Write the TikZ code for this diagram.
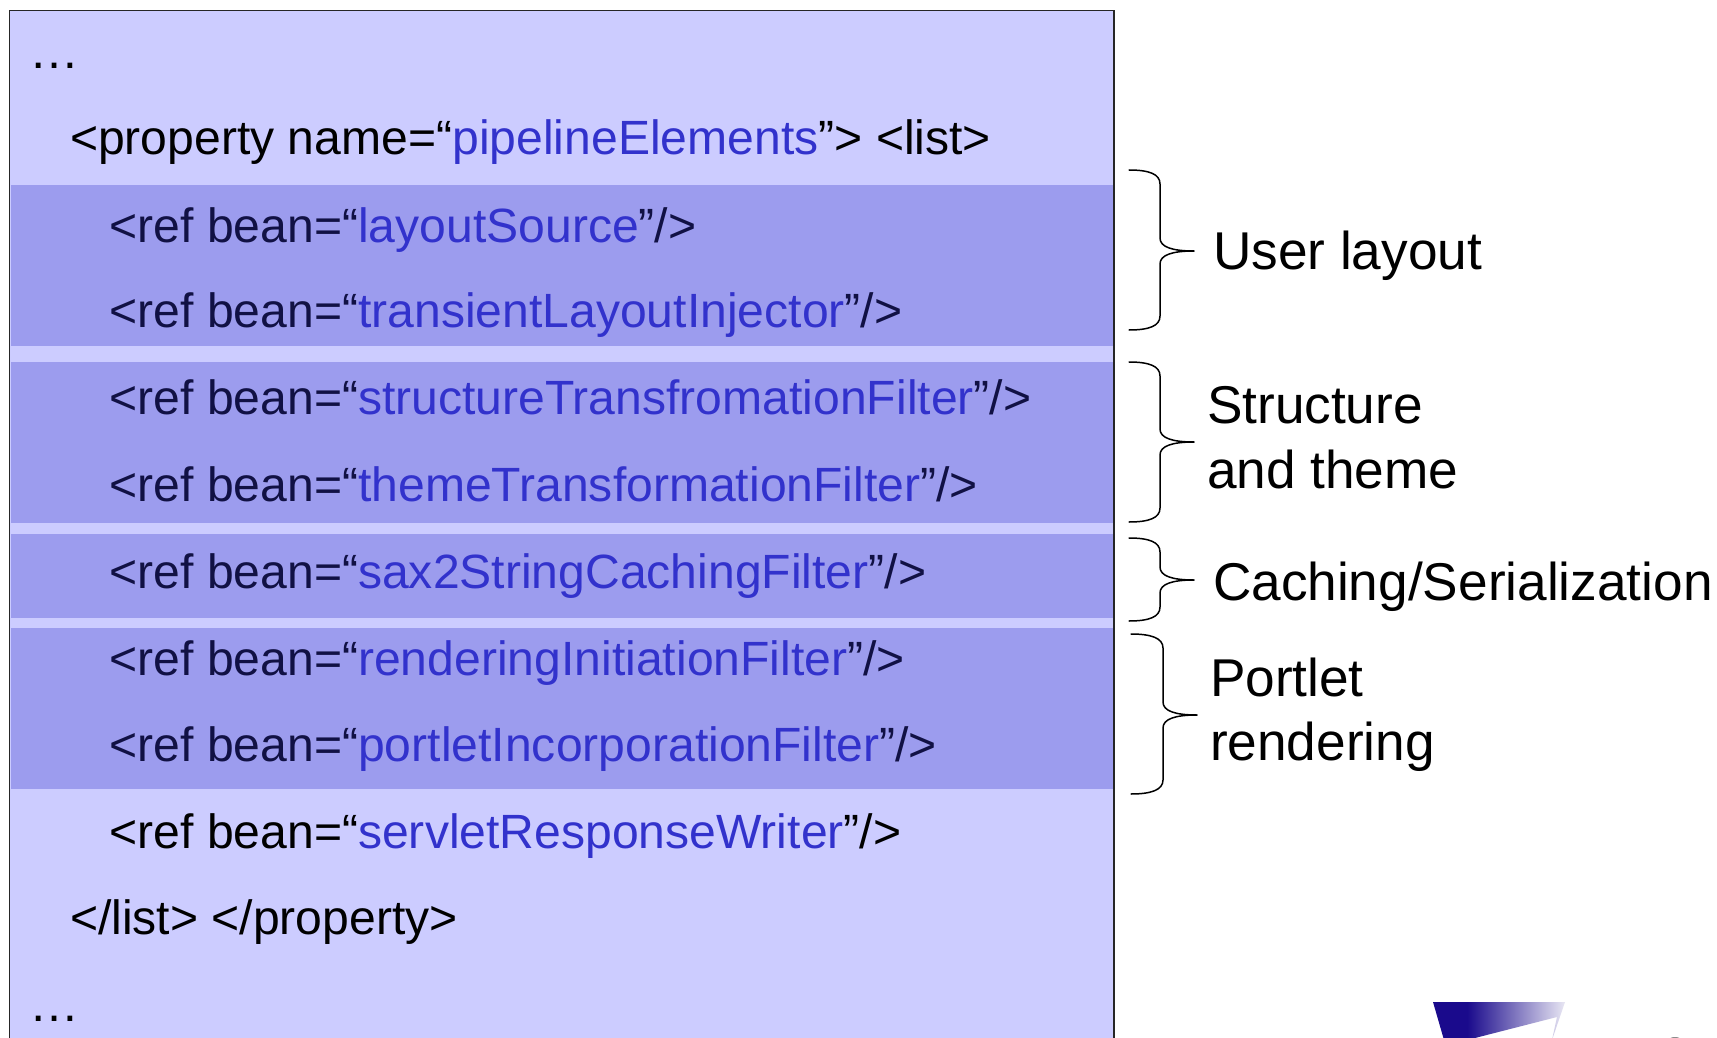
\documentclass[tikz,border=0pt]{standalone}
\usepackage{fontspec}
\setmainfont{Liberation Sans}
\definecolor{boxbg}{HTML}{CCCCFF}
\definecolor{bandbg}{HTML}{9C9CEE}
\definecolor{beanblue}{HTML}{3232CC}
\definecolor{bandtext}{HTML}{111144}
\definecolor{logoblue}{HTML}{1A0A8C}
\pgfdeclarehorizontalshading{logofade}{100bp}{color(0bp)=(logoblue);color(25bp)=(logoblue);color(38bp)=(logoblue);color(75bp)=(logoblue!10);color(100bp)=(logoblue!10)}
\newcommand{\bn}[1]{{\color{beanblue}#1}}
\newcommand{\bodyfont}{\fontsize{48.1}{52}\selectfont}
\newcommand{\labelfont}{\fontsize{53.2}{58}\selectfont}
\tikzset{
  x=1pt,y=-1pt,
  codeline/.style={anchor=base west,inner sep=0pt,outer sep=0pt,font=\bodyfont,text=black},
  bandline/.style={codeline,text=bandtext},
  dotline/.style={codeline,font=\fontsize{50}{54}\selectfont},
  sidelabel/.style={anchor=base west,inner sep=0pt,outer sep=0pt,font=\labelfont,text=black},
  band/.style={fill=bandbg,draw=none},
  bracket/.style={draw=black,line width=1.5pt,line cap=round,line join=round}
}
% #1 left x, #2 spine x, #3 tip x, #4 top y, #5 tip y, #6 bottom y
\newcommand{\sidebrace}[6]{%
  \draw[bracket] (#1,#4) .. controls (#1+20,#4) and (#2,#4+4) .. (#2,#4+14)
    -- (#2,#5-13) .. controls (#2,#5-4) and (#2+12,#5) .. (#3,#5)
    .. controls (#2+12,#5) and (#2,#5+4) .. (#2,#5+13)
    -- (#2,#6-14) .. controls (#2,#6-4) and (#1+20,#6) .. (#1,#6);}
\begin{document}
\begin{tikzpicture}
\useasboundingbox (0,0) rectangle (1717,1038);
\clip (0,0) rectangle (1717,1038);
\fill[white] (0,0) rectangle (1717,1038);
\fill[boxbg] (9.5,10.5) rectangle (1114,1045);
\fill[band] (10.5,185) rectangle (1113,346);
\fill[band] (10.5,362) rectangle (1113,523);
\fill[band] (10.5,534) rectangle (1113,618);
\fill[band] (10.5,628) rectangle (1113,789);
\draw[line width=1.8pt,draw=black!85] (9.5,1045) -- (9.5,10.5) -- (1114,10.5) -- (1114,1045);

\node[dotline] (dotsa) at (29,69) {…};
\node[codeline] (prop) at (70,155) {<property name=“\bn{pipelineElements}”> <list>};
\node[bandline] (r1) at (109.5,242) {<ref bean=“\bn{layoutSource}”/>};
\node[bandline] (r2) at (109.5,327) {<ref bean=“\bn{transientLayoutInjector}”/>};
\node[bandline] (r3) at (109.5,414) {<ref bean=“\bn{structureTransfromationFilter}”/>};
\node[bandline] (r4) at (109.5,501) {<ref bean=“\bn{themeTransformationFilter}”/>};
\node[bandline] (r5) at (109.5,588) {<ref bean=“\bn{sax2StringCachingFilter}”/>};
\node[bandline] (r6) at (109.5,675) {<ref bean=“\bn{renderingInitiationFilter}”/>};
\node[bandline] (r7) at (109.5,761) {<ref bean=“\bn{portletIncorporationFilter}”/>};
\node[codeline] (r8) at (109.5,848) {<ref bean=“\bn{servletResponseWriter}”/>};
\node[codeline] (endp) at (70,934) {</list> </property>};
\node[dotline] (dotsb) at (29,1021) {…};

\sidebrace{1129}{1160}{1194}{170}{251}{330}
\sidebrace{1129}{1160}{1194}{362}{442}{522}
\sidebrace{1129}{1160}{1194}{538}{580}{621}
\sidebrace{1131}{1163}{1197}{634}{715}{794}

\node[sidelabel] (ul) at (1213,269) {User layout};
\node[sidelabel] (st) at (1207,423) {Structure};
\node[sidelabel] (at) at (1207,488) {and theme};
\node[sidelabel] (cs) at (1213,600) {Caching/Serialization};
\node[sidelabel] (po) at (1210,696) {Portlet};
\node[sidelabel] (re) at (1210,760) {rendering};

\shade[shading=logofade] (1433,1002) -- (1565,1002) -- (1552,1040) -- (1557,1017) -- (1475,1038) -- (1444,1040) -- cycle;
\fill[black!45] (1675,1040) ellipse (6 and 3);
\end{tikzpicture}
\end{document}
